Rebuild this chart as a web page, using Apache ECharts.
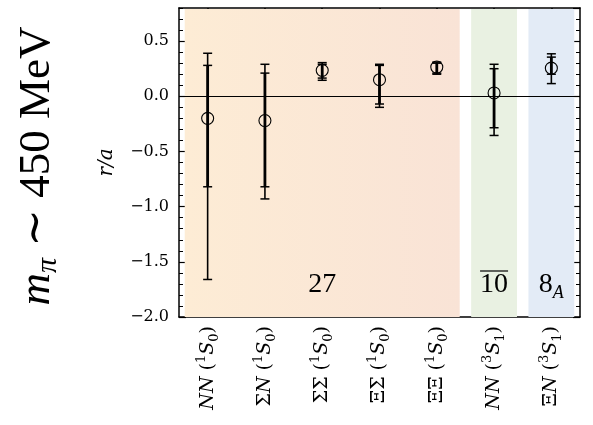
<!DOCTYPE html>
<html>
<head>
<meta charset="utf-8">
<script src="https://cdn.jsdelivr.net/npm/echarts@6/dist/echarts.min.js"></script>
<style>
  html, body { margin: 0; padding: 0; background: #fff; }
  #chart { width: 593px; height: 425px; }
</style>
</head>
<body>
<div id="chart"></div>
<script>
// Two-baryon channels and their partial waves
const channelPairs = ['NN', 'ΣN', 'ΣΣ', 'ΞΣ', 'ΞΞ', 'NN', 'ΞN'];
const spinMult = ['1', '1', '1', '1', '1', '3', '3'];
const waveJ = ['0', '0', '0', '0', '0', '1', '1'];

// r/a central values with inner (statistical) and outer (total) uncertainty ranges
const centralValues = [-0.20, -0.22, 0.235, 0.15, 0.265, 0.03, 0.255];
const innerLow  = [-0.82, -0.82, 0.165, -0.07, 0.21, -0.285, 0.20];
const innerHigh = [0.28, 0.21, 0.29, 0.28, 0.30, 0.25, 0.355];
const outerLow  = [-1.66, -0.93, 0.145, -0.10, 0.20, -0.355, 0.115];
const outerHigh = [0.39, 0.29, 0.305, 0.29, 0.31, 0.29, 0.385];

// Flavour multiplet bands (x ranges in channel units) and their labels
const bandStart = [-0.4, 4.6, 5.6];
const bandEnd = [4.4, 5.4, 6.4];
const multipletText = ['27', '10', '8{sub|A}'];
const multipletOverline = [false, true, false];
const multipletX = [2, 5, 6];
const multipletY = [-1.71, -1.71, -1.71];

// Axis settings
const yMin = -2.0, yMax = 0.8, yMajor = 0.5, yMinor = 0.1;

const SERIF = '"Liberation Serif", "DejaVu Serif", serif';
const WIDE_SERIF = '"DejaVu Serif", "Liberation Serif", serif';
const bandFills = [
  { type: 'linear', x: 0, y: 0, x2: 1, y2: 0, global: false,
    colorStops: [{ offset: 0, color: '#fdecd5' }, { offset: 1, color: '#f9e3d6' }] },
  '#e9f1e2',
  '#e3ebf6'
];

function channelLabel(value, idx) {
  const pair = channelPairs[idx];
  let s = '';
  for (const ch of pair) {
    s += /[A-Za-z]/.test(ch) ? '{it|' + ch + '}' : '{rm|' + ch + '}';
  }
  return s + '{rm| (}{sup|' + spinMult[idx] + '}{it|S}{sub|' + waveJ[idx] + '}{rm|)}';
}

function fmtTick(v) {
  if (Math.abs(v / yMajor - Math.round(v / yMajor)) > 1e-6) return '';
  return v.toFixed(1).replace('-', '\u2212');
}

const labelRich = {
  it: { fontFamily: WIDE_SERIF, fontStyle: 'italic', fontSize: 19, color: '#000', lineHeight: 26 },
  rm: { fontFamily: WIDE_SERIF, fontSize: 19, color: '#000', lineHeight: 26 },
  sup: { fontFamily: WIDE_SERIF, fontSize: 13, color: '#000', lineHeight: 26, verticalAlign: 'top' },
  sub: { fontFamily: WIDE_SERIF, fontSize: 13, color: '#000', lineHeight: 26, verticalAlign: 'bottom' }
};

const measureCtx = document.createElement('canvas').getContext('2d');

const pointData = centralValues.map((v, i) => [i, v, innerLow[i], innerHigh[i], outerLow[i], outerHigh[i]]);
const bandData = bandStart.map((s, i) => [s, bandEnd[i], i]);
const multipletData = multipletX.map((x, i) => [x, multipletY[i], i]);

const spine = { show: true, onZero: false, lineStyle: { color: '#000', width: 1.5 } };
const noLine = { show: false, onZero: false };

const option = {
  animation: false,
  backgroundColor: '#fff',
  grid: { left: 179, right: 13, top: 8, bottom: 108, containLabel: false },
  xAxis: [
    { type: 'value', min: -0.5, max: 6.5, show: false, axisLine: noLine },
    {
      type: 'category', data: channelPairs, position: 'bottom', boundaryGap: true,
      axisLine: spine,
      axisTick: { show: true, alignWithLabel: true, inside: true, length: 6, lineStyle: { color: '#000', width: 1.5 } },
      axisLabel: { rotate: 90, margin: 9, formatter: channelLabel, rich: labelRich, interval: 0 },
      splitLine: { show: false }
    },
    {
      type: 'category', data: channelPairs, position: 'top', boundaryGap: true,
      axisLine: spine,
      axisTick: { show: true, alignWithLabel: true, inside: true, length: 6, lineStyle: { color: '#000', width: 1.5 } },
      axisLabel: { show: false },
      splitLine: { show: false }
    }
  ],
  yAxis: [
    {
      type: 'value', min: yMin, max: yMax, interval: yMajor, position: 'left',
      name: 'r/a', nameLocation: 'middle', nameGap: 62, nameRotate: 90,
      nameTextStyle: { fontFamily: WIDE_SERIF, fontStyle: 'italic', fontSize: 20, color: '#000' },
      axisLine: spine,
      axisTick: { show: true, inside: true, length: 7, lineStyle: { color: '#000', width: 1.2 } },
      axisLabel: { formatter: fmtTick, showMaxLabel: false, margin: 10, fontFamily: WIDE_SERIF, fontSize: 16, color: '#000' },
      splitLine: { show: false }
    },
    {
      type: 'value', min: yMin, max: yMax, interval: yMinor, position: 'left',
      axisLine: noLine,
      axisTick: { show: true, inside: true, length: 4, lineStyle: { color: '#000', width: 1 } },
      axisLabel: { show: false }, splitLine: { show: false }
    },
    {
      type: 'value', min: yMin, max: yMax, interval: yMajor, position: 'right',
      axisLine: spine,
      axisTick: { show: true, inside: true, length: 7, lineStyle: { color: '#000', width: 1.2 } },
      axisLabel: { show: false }, splitLine: { show: false }
    },
    {
      type: 'value', min: yMin, max: yMax, interval: yMinor, position: 'right',
      axisLine: noLine,
      axisTick: { show: true, inside: true, length: 4, lineStyle: { color: '#000', width: 1 } },
      axisLabel: { show: false }, splitLine: { show: false }
    }
  ],
  graphic: [
    {
      type: 'text', x: 37, y: 166, rotation: Math.PI / 2,
      style: {
        text: '{it|m}{sub|π}{rm| ∼ 450 MeV}',
        align: 'center', verticalAlign: 'middle',
        rich: {
          it: { fontFamily: SERIF, fontStyle: 'italic', fontSize: 45, fill: '#000', lineHeight: 52 },
          rm: { fontFamily: SERIF, fontSize: 45, fill: '#000', lineHeight: 52 },
          sub: { fontFamily: SERIF, fontStyle: 'italic', fontSize: 30, fill: '#000', lineHeight: 52, verticalAlign: 'bottom' }
        }
      }
    }
  ],
  series: [
    {
      // multiplet shading
      type: 'custom', xAxisIndex: 0, yAxisIndex: 0, z: 1, silent: true,
      data: bandData,
      renderItem(params, api) {
        const cs = params.coordSys;
        const x0 = api.coord([api.value(0), 0])[0];
        const x1 = api.coord([api.value(1), 0])[0];
        return {
          type: 'rect',
          shape: { x: x0, y: cs.y + 1, width: x1 - x0, height: cs.height - 1 },
          style: { fill: bandFills[api.value(2)] }
        };
      }
    },
    {
      // error bars with open circles, plus the r/a = 0 reference line
      type: 'custom', xAxisIndex: 0, yAxisIndex: 0, z: 3, silent: true,
      data: pointData,
      markLine: {
        silent: true, symbol: ['none', 'none'], label: { show: false },
        lineStyle: { color: '#000', width: 1, type: 'solid' },
        data: [{ yAxis: 0 }]
      },
      renderItem(params, api) {
        const x = api.value(0);
        const c = api.coord([x, api.value(1)]);
        const iLo = api.coord([x, api.value(2)]);
        const iHi = api.coord([x, api.value(3)]);
        const oLo = api.coord([x, api.value(4)]);
        const oHi = api.coord([x, api.value(5)]);
        const cap = 4.5;
        const ink = { stroke: '#000', fill: null };
        const seg = (x1, y1, x2, y2, w) => ({
          type: 'line', shape: { x1, y1, x2, y2 }, style: Object.assign({ lineWidth: w }, ink)
        });
        return {
          type: 'group',
          children: [
            seg(c[0], oLo[1], c[0], oHi[1], 1.6),
            seg(c[0] - cap, oLo[1], c[0] + cap, oLo[1], 1.5),
            seg(c[0] - cap, oHi[1], c[0] + cap, oHi[1], 1.5),
            seg(c[0], iLo[1], c[0], iHi[1], 2.8),
            seg(c[0] - cap, iLo[1], c[0] + cap, iLo[1], 1.5),
            seg(c[0] - cap, iHi[1], c[0] + cap, iHi[1], 1.5),
            { type: 'circle', shape: { cx: c[0], cy: c[1], r: 6 }, style: { stroke: '#000', fill: null, lineWidth: 1.1 } }
          ]
        };
      }
    },
    {
      // multiplet labels
      type: 'custom', xAxisIndex: 0, yAxisIndex: 0, z: 4, silent: true,
      data: multipletData,
      renderItem(params, api) {
        const i = api.value(2);
        const p = api.coord([api.value(0), api.value(1)]);
        const children = [{
          type: 'text', x: p[0], y: p[1],
          style: {
            text: multipletText[i], align: 'center', verticalAlign: 'middle',
            rich: {
              sub: { fontFamily: SERIF, fontStyle: 'italic', fontSize: 18, fill: '#000', verticalAlign: 'bottom', lineHeight: 34 }
            },
            font: '28px ' + SERIF, fill: '#000', lineHeight: 34
          }
        }];
        if (multipletOverline[i]) {
          measureCtx.font = '28px ' + SERIF;
          const w = measureCtx.measureText(multipletText[i]).width;
          children.push({
            type: 'line',
            shape: { x1: p[0] - w / 2, y1: p[1] - 14, x2: p[0] + w / 2, y2: p[1] - 14 },
            style: { stroke: '#000', lineWidth: 1.2 }
          });
        }
        return { type: 'group', children };
      }
    }
  ]
};

const chart = echarts.init(document.getElementById('chart'), null, { renderer: 'canvas' });
chart.setOption(option);
</script>
</body>
</html>
